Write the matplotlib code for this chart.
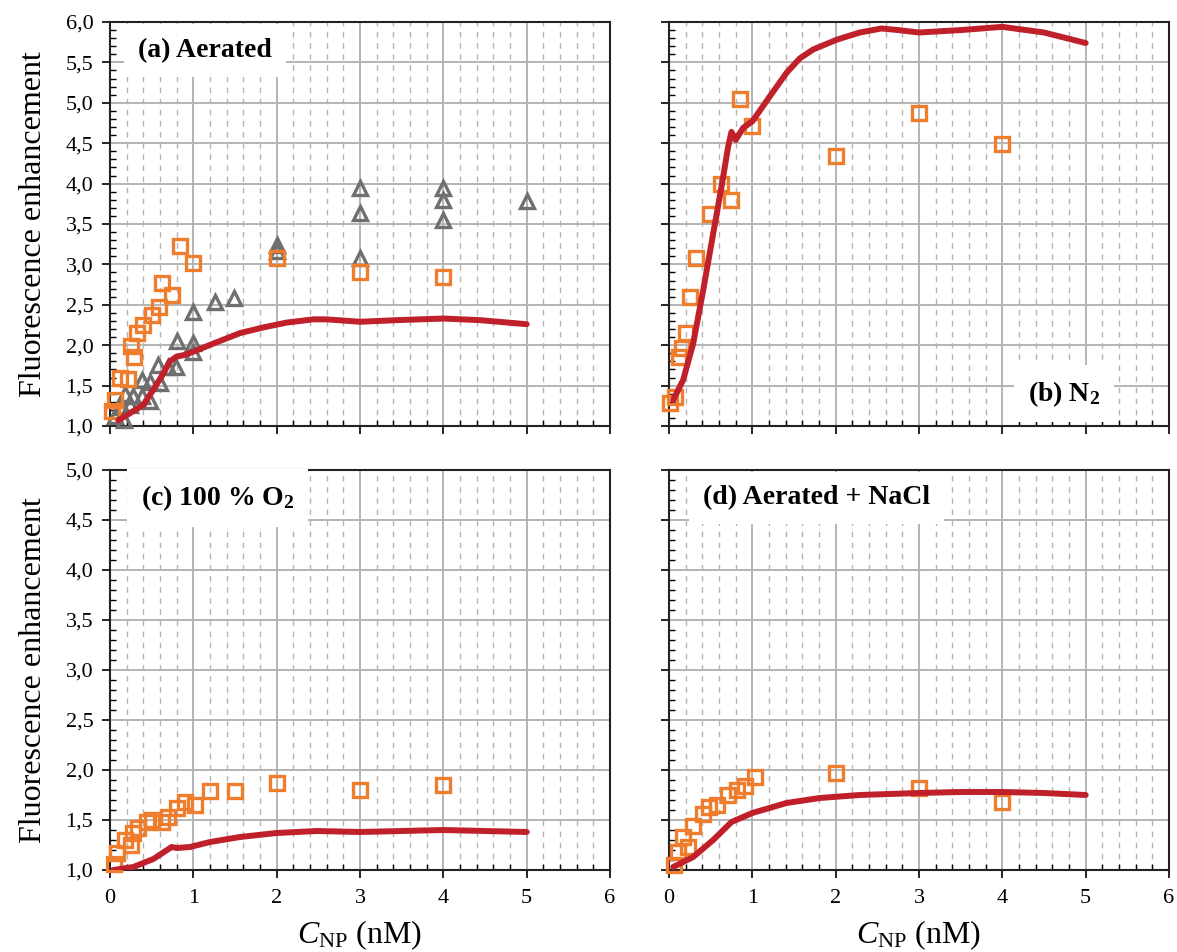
import matplotlib
matplotlib.use("Agg")
import matplotlib.pyplot as plt
from matplotlib.ticker import MultipleLocator, FuncFormatter

plt.rcParams["font.family"] = ["Liberation Serif", "DejaVu Serif"]
plt.rcParams["mathtext.fontset"] = "custom"
plt.rcParams["mathtext.rm"] = "Liberation Serif"
plt.rcParams["mathtext.it"] = "Liberation Serif:italic"
plt.rcParams["mathtext.bf"] = "Liberation Serif:bold"

# ---------------- data ----------------
# (a) aerated
a_sq_x = [0.02, 0.06, 0.12, 0.22, 0.25, 0.29, 0.32, 0.39, 0.50, 0.59, 0.62, 0.74, 0.84, 1.0, 2.0, 3.0, 4.0]
a_sq_y = [1.19, 1.32, 1.60, 1.58, 1.99, 1.85, 2.15, 2.25, 2.37, 2.47, 2.77, 2.62, 3.23, 3.02, 3.08, 2.91, 2.84]
a_tri_x = [0.06, 0.17, 0.14, 0.24, 0.18, 0.28, 0.38, 0.48, 0.38, 0.48, 0.60, 0.58, 0.70, 0.79,
           0.80, 0.99, 0.99, 0.99, 1.26, 1.49, 2.0, 2.0, 3.0, 3.0, 3.0, 4.0, 4.0, 4.0, 5.0]
a_tri_y = [1.12, 1.08, 1.24, 1.26, 1.40, 1.37, 1.37, 1.31, 1.57, 1.54, 1.53, 1.76, 1.73, 1.73,
           2.05, 2.03, 1.92, 2.41, 2.53, 2.58, 3.24, 3.16, 3.94, 3.63, 3.08, 3.94, 3.80, 3.55, 3.79]
a_fit_x = [0.1, 0.24, 0.4, 0.52, 0.64, 0.72, 0.8, 0.9, 1.0, 1.24, 1.56, 1.84, 2.12, 2.44, 2.6,
           3.0, 3.44, 4.0, 4.44, 5.0]
a_fit_y = [1.07, 1.16, 1.26, 1.45, 1.65, 1.80, 1.86, 1.88, 1.92, 2.02, 2.15, 2.22, 2.28, 2.32, 2.32,
           2.29, 2.31, 2.33, 2.31, 2.26]

# (b) N2
b_sq_x = [0.01, 0.07, 0.12, 0.15, 0.20, 0.25, 0.32, 0.49, 0.62, 0.74, 0.85, 1.0, 2.0, 3.0, 4.0]
b_sq_y = [1.29, 1.36, 1.86, 1.96, 2.15, 2.60, 3.08, 3.62, 4.00, 3.80, 5.05, 4.71, 4.34, 4.87, 4.49]
b_fit_x = [0.05, 0.17, 0.29, 0.41, 0.53, 0.63, 0.71, 0.75, 0.80, 0.89, 1.0, 1.21, 1.41, 1.57, 1.73,
           2.01, 2.29, 2.55, 2.75, 3.0, 3.5, 4.0, 4.5, 5.0]
b_fit_y = [1.32, 1.57, 2.02, 2.68, 3.38, 3.96, 4.46, 4.64, 4.54, 4.69, 4.77, 5.08, 5.37, 5.55, 5.66,
           5.78, 5.87, 5.92, 5.90, 5.87, 5.90, 5.94, 5.87, 5.74]

# (c) 100 % O2
c_sq_x = [0.05, 0.08, 0.18, 0.25, 0.28, 0.34, 0.44, 0.50, 0.62, 0.70, 0.80, 0.90, 1.02, 1.2, 1.5,
          2.0, 3.0, 4.0]
c_sq_y = [1.06, 1.17, 1.30, 1.25, 1.37, 1.42, 1.48, 1.50, 1.48, 1.53, 1.62, 1.68, 1.65, 1.79, 1.79,
          1.87, 1.80, 1.85]
c_fit_x = [0.04, 0.28, 0.52, 0.74, 0.8, 0.96, 1.2, 1.56, 2.0, 2.48, 3.0, 3.5, 4.0, 4.5, 5.0]
c_fit_y = [1.0, 1.03, 1.11, 1.23, 1.22, 1.23, 1.28, 1.33, 1.37, 1.39, 1.38, 1.39, 1.40, 1.39, 1.38]

# (d) aerated + NaCl
d_sq_x = [0.06, 0.11, 0.17, 0.23, 0.29, 0.41, 0.48, 0.57, 0.71, 0.81, 0.91, 1.03, 2.0, 3.0, 4.0]
d_sq_y = [1.05, 1.18, 1.33, 1.23, 1.44, 1.56, 1.63, 1.65, 1.75, 1.80, 1.84, 1.93, 1.97, 1.82, 1.68]
d_fit_x = [0.05, 0.29, 0.53, 0.75, 1.0, 1.41, 1.81, 2.29, 3.0, 3.5, 4.0, 4.5, 5.0]
d_fit_y = [1.03, 1.13, 1.30, 1.48, 1.57, 1.67, 1.72, 1.75, 1.77, 1.78, 1.78, 1.77, 1.75]

labels = ["(a) Aerated", "(b) N$_\\mathbf{2}$", "(c) 100 % O$_\\mathbf{2}$", "(d) Aerated + NaCl"]

ORANGE = "#EE7D2E"
GREY = "#6F6F6F"
RED = "#C0202A"
GRID = "#b4b4b4"

W, H = 1177, 952
fig = plt.figure(figsize=(W / 100, H / 100), dpi=100)


def make_axes(x0, y_top, y_bot, ylim):
    ax = fig.add_axes([x0 / W, 1 - y_bot / H, 500 / W, (y_bot - y_top) / H])
    ax.set_xlim(0, 6)
    ax.set_ylim(*ylim)
    ax.xaxis.set_major_locator(MultipleLocator(1))
    ax.xaxis.set_minor_locator(MultipleLocator(0.2))
    ax.yaxis.set_major_locator(MultipleLocator(0.5))
    ax.yaxis.set_minor_locator(MultipleLocator(0.1))
    ax.yaxis.set_major_formatter(FuncFormatter(lambda v, p: f"{v:.1f}".replace(".", ",")))
    ax.grid(True, which="major", color=GRID, lw=1.4, zorder=0)
    ax.grid(True, which="minor", axis="x", color=GRID, lw=1.0, ls=(0, (4, 4)), zorder=0)
    ax.set_axisbelow(True)
    ax.tick_params(which="major", direction="out", length=6, width=1.2, labelsize=16, pad=6)
    ax.tick_params(which="minor", direction="in", length=4, width=1.0)
    for s in ax.spines.values():
        s.set_linewidth(1.5)
        s.set_color("#222222")
    return ax


ax_a = make_axes(110, 22, 426, (1, 6))
ax_b = make_axes(669, 22, 426, (1, 6))
ax_c = make_axes(110, 470, 870, (1, 5))
ax_d = make_axes(669, 470, 870, (1, 5))

sq_kw = dict(ls="none", marker="s", ms=9.5, mfc="none", mec=ORANGE, mew=2.4, zorder=3, clip_on=False)
tri_kw = dict(ls="none", marker="^", ms=9.5, mfc="none", mec=GREY, mew=2.4, zorder=3, clip_on=False)
fit_kw = dict(color=RED, lw=4.3, zorder=4, solid_capstyle="round")

ax_a.plot(a_tri_x, a_tri_y, **tri_kw)
ax_a.plot(a_sq_x, a_sq_y, **sq_kw)
ax_a.plot(a_fit_x, a_fit_y, **fit_kw)

ax_b.plot(b_sq_x, b_sq_y, **sq_kw)
ax_b.plot(b_fit_x, b_fit_y, **fit_kw)

ax_c.plot(c_sq_x, c_sq_y, **sq_kw)
ax_c.plot(c_fit_x, c_fit_y, **fit_kw)

ax_d.plot(d_sq_x, d_sq_y, **sq_kw)
ax_d.plot(d_fit_x, d_fit_y, **fit_kw)

# panel labels with white boxes
box = dict(facecolor="white", edgecolor="none", boxstyle="square,pad=0.5")
ax_a.text(0.19, 0.93, labels[0], transform=ax_a.transAxes, ha="center", va="center",
          fontsize=20, fontweight="bold", bbox=box, zorder=5)
ax_b.text(0.79, 0.08, labels[1], transform=ax_b.transAxes, ha="center", va="center",
          fontsize=20, fontweight="bold", bbox=box, zorder=5)
ax_c.text(0.215, 0.93, labels[2], transform=ax_c.transAxes, ha="center", va="center",
          fontsize=20, fontweight="bold", bbox=box, zorder=5)
ax_d.text(0.295, 0.93, labels[3], transform=ax_d.transAxes, ha="center", va="center",
          fontsize=20, fontweight="bold", bbox=box, zorder=5)

for ax in (ax_a, ax_b):
    ax.tick_params(labelbottom=False)
for ax in (ax_b, ax_d):
    ax.tick_params(labelleft=False)
for ax in (ax_c, ax_d):
    ax.tick_params(axis="x", pad=8)
    ax.set_xlabel(r"$C_{\mathrm{NP}}$ (nM)", fontsize=23, labelpad=7)
for ax in (ax_a, ax_c):
    ax.set_ylabel("Fluorescence enhancement", fontsize=23, labelpad=13)

fig.savefig("out.png", dpi=100)
